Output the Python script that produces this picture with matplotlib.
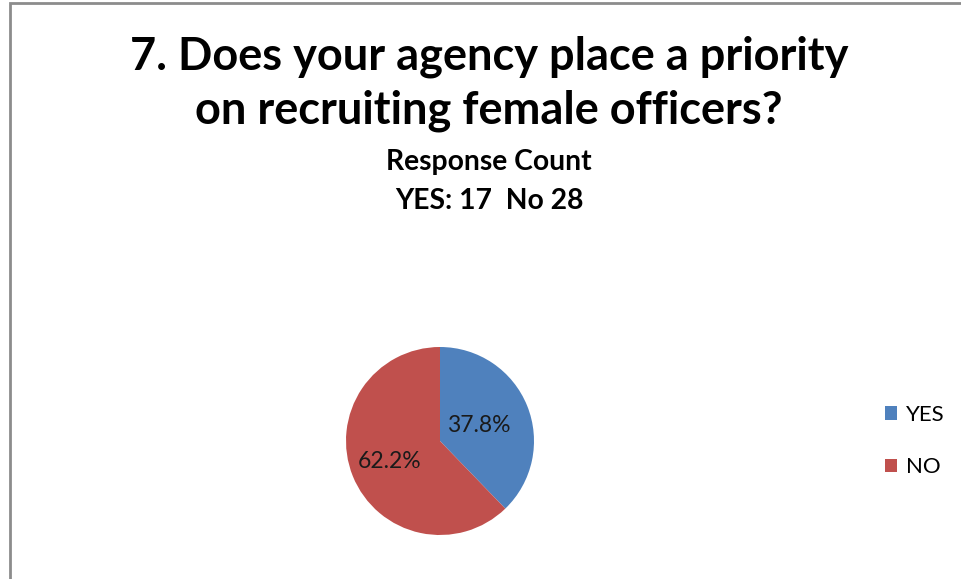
import numpy as np
import matplotlib.pyplot as plt
from matplotlib.patches import Rectangle

labels = ["YES", "NO"]
counts = [17, 28]
colors = ["#4F81BD", "#C0504D"]

title_lines = ["7. Does your agency place a priority", "on recruiting female officers?"]
subtitle_lines = ["Response Count", "YES: 17  No 28"]

plt.rcParams['font.family'] = ['Lato', 'DejaVu Sans']

W, H = 961, 579
fig = plt.figure(figsize=(W / 100, H / 100), dpi=100)

# grey chart frame, open at right and bottom
fig.patches.append(Rectangle((9.5 / W, -0.1), 1.2, 1.1 - 3.5 / H,
                             transform=fig.transFigure, fill=False,
                             edgecolor="#8c8c8c", linewidth=2))

for line, y in zip(title_lines, [57, 111]):
    fig.text(489 / W, 1 - y / H, line, ha="center", va="center",
             fontsize=32.5, fontweight="bold")
for line, y in zip(subtitle_lines, [162, 201]):
    fig.text(489 / W, 1 - y / H, line, ha="center", va="center",
             fontsize=20.3, fontweight="bold")

r = 94
cx, cy = 440, 441
ax = fig.add_axes([(cx - r) / W, (H - cy - r) / H, 2 * r / W, 2 * r / H])
wedges, texts, autotexts = ax.pie(counts, colors=colors, startangle=90,
                                  counterclock=False, autopct="%.1f%%",
                                  textprops={"fontsize": 16.5, "color": "#1a1a1a"})
# pull the labels to their spots inside each slice
for w, t, d in zip(wedges, autotexts, [0.44, 0.58]):
    ang = np.deg2rad((w.theta1 + w.theta2) / 2)
    t.set_position((d * np.cos(ang), d * np.sin(ang)))
ax.set_xlim(-1, 1)
ax.set_ylim(-1, 1)
ax.set_aspect("equal")

fig.legend(wedges, labels, loc="center left",
           bbox_to_anchor=(865 / W, 1 - 441 / H), frameon=False,
           fontsize=16, handlelength=0.55, handleheight=0.55,
           handletextpad=0.4, labelspacing=1.45)

fig.savefig("out.png", dpi=100)
